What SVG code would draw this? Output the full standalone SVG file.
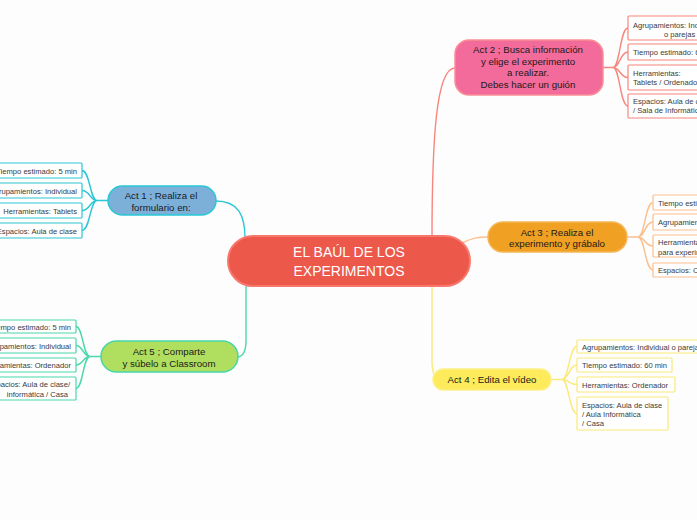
<svg xmlns="http://www.w3.org/2000/svg" width="697" height="520" viewBox="0 0 697 520">
<style>
text{font-family:"Liberation Sans",Arial,sans-serif;}
.act{font-size:9.7px;fill:#1a1a1a;text-anchor:middle;}
.sub{font-size:7.6px;fill:#3a3a3a;}
.end{text-anchor:end;}
.box{fill:#ffffff;stroke-width:1.2;}
.c{fill:none;stroke-width:1.4;stroke-linecap:round;}
.b1{stroke:#2BC7D5;}
.b5{stroke:#4AD8AC;}
.b2{stroke:#F7867C;}
.b3{stroke:#FBC08F;}
.b4{stroke:#FBE97A;}
</style>
<rect width="697" height="520" fill="#FDFDFD"/>
<g id="connectors">
  <path class="c b2" d="M432,240 C432,140 436,68 455,68"/>
  <path class="c b3" d="M462,243 C472,238 478,237 488,237"/>
  <path class="c b4" d="M432,285 L432,360 C432,372 434,378 440,380"/>
  <path class="c b1" d="M216,201 C238,201 245,215 245,238"/>
  <path class="c b5" d="M246,285 L246,340 C246,352 243,357 237,357"/>
  <path class="c b1" d="M108,200.5 H97 M97,200.5 C90,200.5 90,170.5 82,170.5 M97,200.5 C90,200.5 90,190.5 82,190.5 M97,200.5 C90,200.5 90,210.5 82,210.5 M97,200.5 C90,200.5 90,230.5 82,230.5"/>
  <path class="c b5" d="M101,356.5 H90 M90,356.5 C83,356.5 83,326.5 76,326.5 M90,356.5 C83,356.5 83,345.5 76,345.5 M90,356.5 C83,356.5 83,365 76,365 M90,356.5 C83,356.5 83,388.5 76,388.5"/>
  <path class="c b2" d="M603,67.5 H613 M613,67.5 C620,67.5 620,28 628,28 M613,67.5 C620,67.5 620,52 628,52 M613,67.5 C620,67.5 620,77.5 628,77.5 M613,67.5 C620,67.5 620,106 628,106"/>
  <path class="c b3" d="M627,237 H638 M638,237 C645,237 645,202.5 653,202.5 M638,237 C645,237 645,222 653,222 M638,237 C645,237 645,246 653,246 M638,237 C645,237 645,270 653,270"/>
  <path class="c b4" d="M551,379.5 H562 M562,379.5 C569,379.5 569,346.5 577,346.5 M562,379.5 C569,379.5 569,365 577,365 M562,379.5 C569,379.5 569,384.5 577,384.5 M562,379.5 C569,379.5 569,413.5 577,413.5"/>
</g>
<g id="central">
  <rect x="228" y="236" width="242" height="50" rx="25" fill="#EC584A" stroke="#F8786D" stroke-width="2"/>
  <text x="349" y="257" font-size="14" fill="#ffffff" text-anchor="middle">EL BAÚL DE LOS</text>
  <text x="349" y="276" font-size="14" fill="#ffffff" text-anchor="middle">EXPERIMENTOS</text>
</g>
<g id="act1">
  <rect x="108" y="186" width="108" height="29" rx="14.5" fill="#7DB0D9" stroke="#26C8D6" stroke-width="1.5"/>
  <text class="act" x="161" y="199">Act 1 ; Realiza el</text>
  <text class="act" x="161" y="210.5">formulario en:</text>
</g>
<g id="act1-tiempo"><rect class="box b1" x="-30" y="163" width="112" height="15" rx="1"/><text class="sub end" x="77" y="173.5">Tiempo estimado: 5 min</text></g>
<g id="act1-agrup"><rect class="box b1" x="-30" y="183" width="112" height="15" rx="1"/><text class="sub end" x="77" y="193.5">Agrupamientos: Individual</text></g>
<g id="act1-herr"><rect class="box b1" x="-30" y="203" width="112" height="15" rx="1"/><text class="sub end" x="77" y="213.5">Herramientas: Tablets</text></g>
<g id="act1-esp"><rect class="box b1" x="-30" y="223" width="112" height="15" rx="1"/><text class="sub end" x="77" y="233.5">Espacios: Aula de clase</text></g>
<g id="act5">
  <rect x="101" y="341" width="137" height="31" rx="15.5" fill="#B0DF60" stroke="#45D6A8" stroke-width="1.5"/>
  <text class="act" x="169" y="355">Act 5 ; Comparte</text>
  <text class="act" x="169" y="366.5">y súbelo a Classroom</text>
</g>
<g id="act5-tiempo"><rect class="box b5" x="-30" y="320" width="106" height="13" rx="1"/><text class="sub end" x="71" y="329.5">Tiempo estimado: 5 min</text></g>
<g id="act5-agrup"><rect class="box b5" x="-30" y="338" width="106" height="15" rx="1"/><text class="sub end" x="71" y="348.5">Agrupamientos: Individual</text></g>
<g id="act5-herr"><rect class="box b5" x="-30" y="358" width="106" height="14" rx="1"/><text class="sub end" x="71" y="368">Herramientas: Ordenador</text></g>
<g id="act5-esp"><rect class="box b5" x="-30" y="377" width="106" height="23" rx="1"/><text class="sub end" x="70" y="387">Espacios: Aula de clase/</text><text class="sub end" x="68" y="396.5">informática / Casa</text></g>
<g id="act2">
  <rect x="455" y="40" width="148" height="55" rx="14" fill="#F26B9B" stroke="#FA8E95" stroke-width="1.5"/>
  <text class="act" x="528" y="53">Act 2 ; Busca información</text>
  <text class="act" x="528" y="64.5">y elige el experimento</text>
  <text class="act" x="528" y="76">a realizar.</text>
  <text class="act" x="528" y="87.5">Debes hacer un guión</text>
</g>
<g id="act2-agrup"><rect class="box b2" x="628" y="16" width="120" height="24" rx="1"/><text class="sub" x="633" y="27.5">Agrupamientos: Individual</text><text class="sub" x="664" y="36.5">o parejas</text></g>
<g id="act2-tiempo"><rect class="box b2" x="628" y="44" width="120" height="16" rx="1"/><text class="sub" x="633" y="55">Tiempo estimado: 60 min</text></g>
<g id="act2-herr"><rect class="box b2" x="628" y="65" width="120" height="25" rx="1"/><text class="sub" x="633" y="75.5">Herramientas:</text><text class="sub" x="633" y="85">Tablets / Ordenador</text></g>
<g id="act2-esp"><rect class="box b2" x="628" y="94" width="120" height="24" rx="1"/><text class="sub" x="633" y="104">Espacios: Aula de clase</text><text class="sub" x="633" y="113">/ Sala de Informática</text></g>
<g id="act3">
  <rect x="488" y="222" width="139" height="30" rx="15" fill="#F0A023" stroke="#F5B755" stroke-width="1.5"/>
  <text class="act" x="557" y="235.5">Act 3 ; Realiza el</text>
  <text class="act" x="557" y="247">experimento y grábalo</text>
</g>
<g id="act3-tiempo"><rect class="box b3" x="653" y="195" width="120" height="15" rx="1"/><text class="sub" x="658" y="205.5">Tiempo estimado: 60 min</text></g>
<g id="act3-agrup"><rect class="box b3" x="653" y="214" width="120" height="16" rx="1"/><text class="sub" x="658" y="225">Agrupamientos: Individual</text></g>
<g id="act3-herr"><rect class="box b3" x="653" y="235" width="120" height="22" rx="1"/><text class="sub" x="658" y="245">Herramientas: Material</text><text class="sub" x="658" y="254.5">para experimentar</text></g>
<g id="act3-esp"><rect class="box b3" x="653" y="263" width="120" height="14" rx="1"/><text class="sub" x="658" y="273">Espacios: Clase</text></g>
<g id="act4">
  <rect x="433" y="369" width="118" height="21" rx="10.5" fill="#FDEB5B" stroke="#FDF088" stroke-width="1.5"/>
  <text class="act" x="492" y="383">Act 4 ; Edita el vídeo</text>
</g>
<g id="act4-agrup"><rect class="box b4" x="577" y="340" width="140" height="13" rx="1"/><text class="sub" x="582" y="349.5">Agrupamientos: Individual o parejas</text></g>
<g id="act4-tiempo"><rect class="box b4" x="577" y="358" width="95" height="14" rx="1"/><text class="sub" x="582" y="368">Tiempo estimado: 60 min</text></g>
<g id="act4-herr"><rect class="box b4" x="577" y="377" width="98" height="15" rx="1"/><text class="sub" x="582" y="387.5">Herramientas: Ordenador</text></g>
<g id="act4-esp"><rect class="box b4" x="577" y="397" width="91" height="33" rx="1"/><text class="sub" x="582" y="407.5">Espacios: Aula de clase</text><text class="sub" x="582" y="416.5">/ Aula Informática</text><text class="sub" x="582" y="425.5">/ Casa</text></g>
</svg>
